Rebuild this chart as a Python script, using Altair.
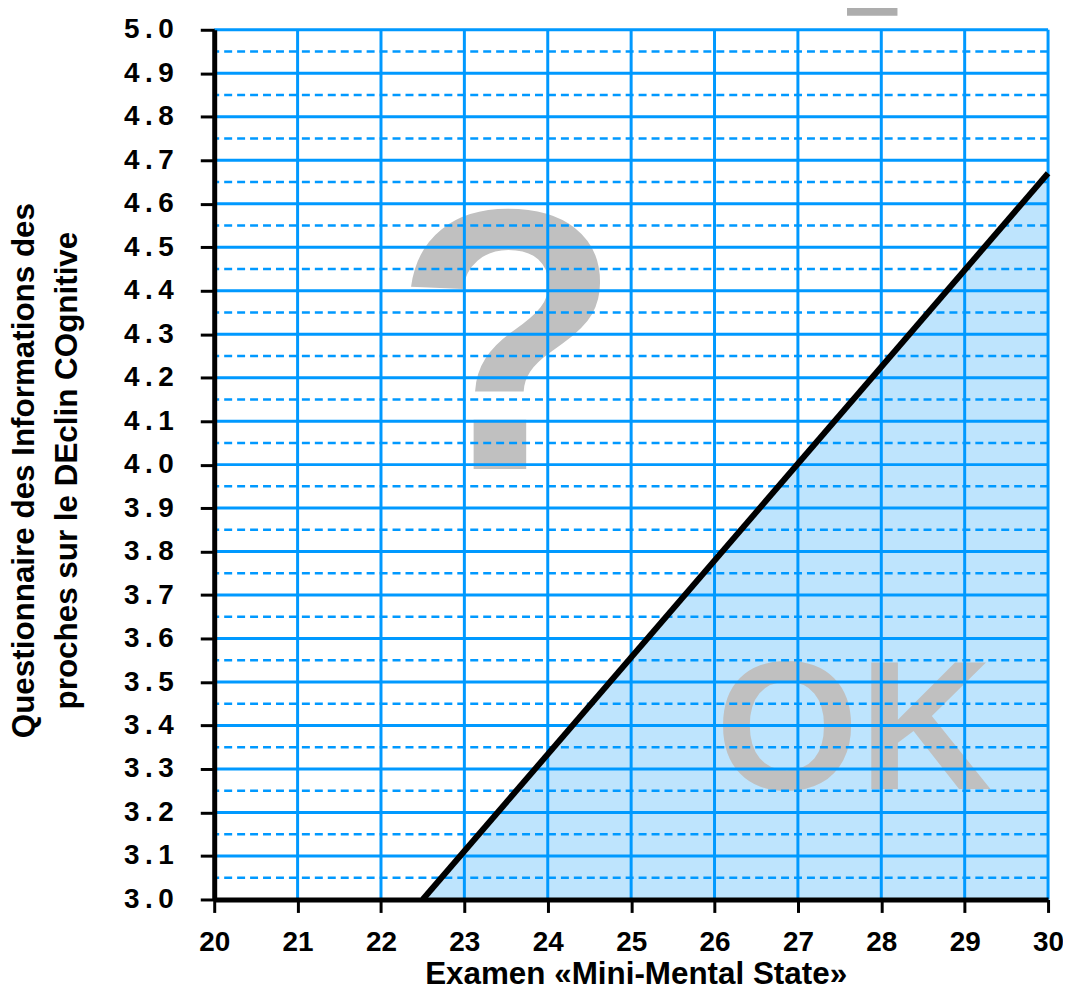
import altair as alt
import pandas as pd

# threshold line (MMSE vs IQCODE)
line_x = [22.5, 30.0]
line_y = [3.0, 4.67]

# grid positions
grid_x = [21, 22, 23, 24, 25, 26, 27, 28, 29, 30]
grid_y_major = [3.1, 3.2, 3.3, 3.4, 3.5, 3.6, 3.7, 3.8, 3.9, 4.0,
                4.1, 4.2, 4.3, 4.4, 4.5, 4.6, 4.7, 4.8, 4.9, 5.0]
grid_y_minor = [3.05, 3.15, 3.25, 3.35, 3.45, 3.55, 3.65, 3.75, 3.85, 3.95,
                4.05, 4.15, 4.25, 4.35, 4.45, 4.55, 4.65, 4.75, 4.85, 4.95]

# tick values
x_ticks = [20, 21, 22, 23, 24, 25, 26, 27, 28, 29, 30]
y_ticks = [3.0, 3.1, 3.2, 3.3, 3.4, 3.5, 3.6, 3.7, 3.8, 3.9, 4.0,
           4.1, 4.2, 4.3, 4.4, 4.5, 4.6, 4.7, 4.8, 4.9, 5.0]

# big annotation glyphs
q_text = ["?"]
q_x = [23.52]
q_y = [3.99]
ok_text = ["OK"]
ok_x = [27.67]
ok_y = [3.254]
ex_text = ["!"]
ex_x = [27.9]
ex_y = [5.032]

FONT = "Liberation Sans"
BLUE = "#0099FF"

line_df = pd.DataFrame({"x": line_x, "y": line_y, "y0": [3.0, 3.0]})
gx_df = pd.DataFrame({"x": grid_x})
gy_df = pd.DataFrame({"y": grid_y_major})
gym_df = pd.DataFrame({"y": grid_y_minor})
q_df = pd.DataFrame({"t": q_text, "x": q_x, "y": q_y})
ok_df = pd.DataFrame({"t": ok_text, "x": ok_x, "y": ok_y})
ex_df = pd.DataFrame({"t": ex_text, "x": ex_x, "y": ex_y})

xscale = alt.Scale(domain=[20, 30], nice=False, zero=False)
yscale = alt.Scale(domain=[3.0, 5.0], nice=False, zero=False)

thin = "\u2009"

xaxis = alt.Axis(
    values=x_ticks, format="d", grid=False,
    domainColor="black", domainWidth=5, tickColor="black", tickWidth=3, tickSize=13,
    labelFont=FONT, labelFontSize=28, labelFontWeight="bold", labelColor="black",
    labelPadding=16, labelFlush=False,
    title="Examen «Mini-Mental State»", titleFont=FONT, titleFontSize=31.5,
    titleFontWeight="bold", titleColor="black",
    titleBaseline="alphabetic", titleX=423, titleY=84, zindex=1,
)
yaxis = alt.Axis(
    values=y_ticks, format=".1f", grid=False,
    labelExpr="replace(datum.label, '.', '" + thin + "." + thin + "')",
    domainColor="black", domainWidth=5, tickColor="black", tickWidth=3, tickSize=14,
    labelFont=FONT, labelFontSize=28, labelFontWeight="bold", labelColor="black",
    labelPadding=27, labelFlush=False,
    title=["Questionnaire des Informations des", "proches sur le DEclin COgnitive"],
    titleFont=FONT, titleFontSize=31.5, titleFontWeight="bold", titleColor="black",
    titleLineHeight=43, titleAngle=270, titleAlign="center", titleBaseline="bottom",
    titleX=-174, titleY=442, zindex=1,
)

area = alt.Chart(line_df).mark_area(color="#BEE4FD", opacity=1).encode(
    x=alt.X("x:Q", scale=xscale, axis=xaxis),
    y=alt.Y("y:Q", scale=yscale, axis=yaxis),
    y2="y0:Q",
)

q_mark = alt.Chart(q_df).mark_text(
    font=FONT, fontSize=374, fontWeight="bold", color="#C0C0C0",
    align="center", baseline="alphabetic",
).encode(x=alt.X("x:Q", scale=xscale), y=alt.Y("y:Q", scale=yscale), text="t:N")

ok_mark = alt.Chart(ok_df).mark_text(
    font=FONT, fontSize=185, fontWeight="bold", color="#C0C0C0",
    align="center", baseline="alphabetic",
).encode(x=alt.X("x:Q", scale=xscale), y=alt.Y("y:Q", scale=yscale), text="t:N")

ex_mark = alt.Chart(ex_df).mark_text(
    font=FONT, fontSize=360, fontWeight="bold", color="#ADADAD",
    align="center", baseline="alphabetic",
).encode(x=alt.X("x:Q", scale=xscale), y=alt.Y("y:Q", scale=yscale), text="t:N")

vgrid = alt.Chart(gx_df).mark_rule(color=BLUE, strokeWidth=3).encode(
    x=alt.X("x:Q", scale=xscale)
)
hgrid = alt.Chart(gy_df).mark_rule(color=BLUE, strokeWidth=3).encode(
    y=alt.Y("y:Q", scale=yscale)
)
hgrid_minor = alt.Chart(gym_df).mark_rule(color=BLUE, strokeWidth=2.5, strokeDash=[8, 5]).encode(
    y=alt.Y("y:Q", scale=yscale)
)

thr_line = alt.Chart(line_df).mark_line(color="black", strokeWidth=6, strokeCap="butt").encode(
    x=alt.X("x:Q", scale=xscale),
    y=alt.Y("y:Q", scale=yscale),
)

chart = alt.layer(
    area, q_mark, ok_mark, ex_mark, vgrid, hgrid, hgrid_minor, thr_line
).properties(
    width=837, height=873,
    autosize=alt.AutoSizeParams(type="none"),
    padding={"left": 207, "top": 20, "right": 15, "bottom": 85},
).configure_view(stroke=None).configure(background="white")

chart.save("out.html", embed_options={"renderer": "svg", "actions": False})
